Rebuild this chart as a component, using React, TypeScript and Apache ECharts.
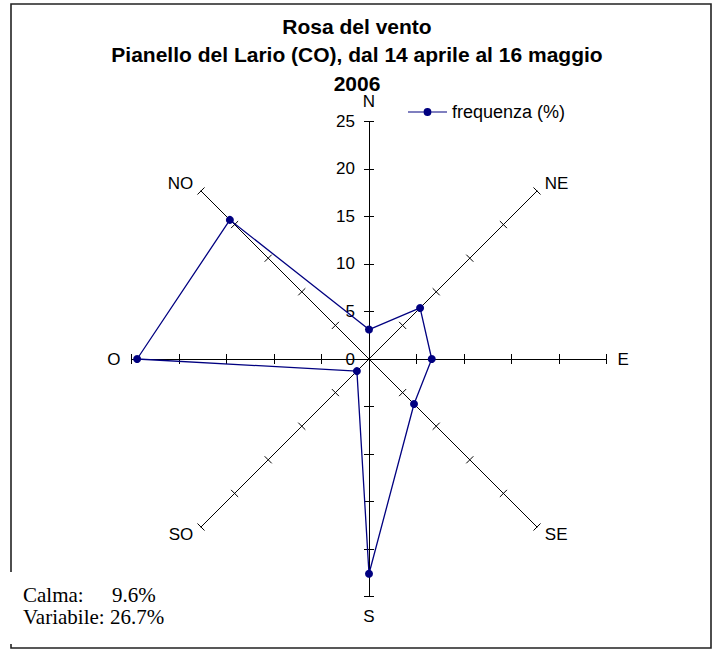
import React, { useEffect, useRef } from 'react';
import * as echarts from 'echarts';

// ---- data (clockwise from North, as in the reference) ----
const directions = ['N', 'NE', 'E', 'SE', 'S', 'SO', 'O', 'NO'];
const frequency = [3.1, 7.6, 6.6, 6.7, 22.6, 1.8, 24.4, 20.7];
const axisMin = 0;
const axisMax = 25;
const axisSplits = 5;
const seriesName = 'frequenza (%)';
const titleLines = ['Rosa del vento', 'Pianello del Lario (CO), dal 14 aprile al 16 maggio', '2006'];
const noteLabels = ['Calma:', 'Variabile:'];
const noteValues = ['9.6%', '26.7%'];

const SANS = '"Liberation Sans", Arial, sans-serif';
const SERIF = '"Liberation Serif", "Times New Roman", serif';
const NAVY = '#000080';

// ECharts radar places indicators counter-clockwise: reorder so they read clockwise.
const ccwOrder = directions.map((_, i) => (directions.length - i) % directions.length);

export default function App() {
  const ref = useRef<HTMLDivElement>(null);

  useEffect(() => {
    if (!ref.current) return;
    const chart = echarts.init(ref.current, undefined, { renderer: 'svg' });

    const indicators = ccwOrder.map((i) => ({
      name: directions[i],
      min: axisMin,
      max: axisMax,
      ...(directions[i] === 'N' ? { axisLabel: { show: true } } : {}),
    }));
    const plainIndicators = ccwOrder.map(() => ({ name: '', min: axisMin, max: axisMax }));
    const values = ccwOrder.map((i) => frequency[i]);

    const radarBase = {
      center: [369, 359],
      radius: 237.6,
      startAngle: 90,
      splitNumber: axisSplits,
      shape: 'polygon',
      splitLine: { show: false },
      splitArea: { show: false },
    };

    chart.setOption({
      animation: false,
      backgroundColor: '#fff',
      title: {
        text: titleLines.join('\n'),
        left: 357,
        top: 12,
        padding: 0,
        textAlign: 'center',
        textStyle: {
          fontFamily: SANS,
          fontSize: 21,
          fontWeight: 'bold',
          color: '#000',
          lineHeight: 28.5,
        },
      },
      legend: {
        data: [seriesName],
        left: 408,
        top: 103,
        padding: 0,
        itemWidth: 39,
        itemHeight: 8,
        icon: 'path://M0,3.4L40,3.4L40,4.6L0,4.6Z M16,4A4,4,0,1,1,24,4A4,4,0,1,1,16,4Z',
        textStyle: { fontFamily: SANS, fontSize: 18, color: '#000' },
      },
      radar: [
        {
          ...radarBase,
          indicator: indicators,
          nameGap: 11,
          axisName: { color: '#000', fontSize: 17, fontFamily: SANS },
          axisLine: { show: true, lineStyle: { color: '#000', width: 1 } },
          axisTick: { show: true, length: 5, lineStyle: { color: '#000', width: 1 } },
          axisLabel: { show: false, color: '#000', fontSize: 17, fontFamily: SANS, margin: 14 },
        },
        {
          ...radarBase,
          indicator: plainIndicators,
          axisName: { show: false },
          axisLine: { show: false },
          axisTick: { show: true, length: -5, lineStyle: { color: '#000', width: 1 } },
          axisLabel: { show: false },
        },
      ],
      series: [
        {
          type: 'radar',
          radarIndex: 0,
          name: seriesName,
          symbol: 'circle',
          symbolSize: 8,
          lineStyle: { color: NAVY, width: 1.3 },
          itemStyle: { color: NAVY },
          data: [{ name: seriesName, value: values }],
        },
      ],
      graphic: [
        {
          type: 'rect',
          shape: { x: 11, y: 4, width: 700, height: 644 },
          style: { fill: 'none', stroke: '#222', lineWidth: 1.6 },
          silent: true,
        },
        {
          type: 'rect',
          shape: { x: 4, y: 572, width: 180, height: 72 },
          style: { fill: '#fff', stroke: 'none' },
          silent: true,
        },
        {
          type: 'text',
          x: 23,
          y: 595,
          style: { text: noteLabels[0], fill: '#000', fontFamily: SERIF, fontSize: 21, textVerticalAlign: 'middle' },
        },
        {
          type: 'text',
          x: 112,
          y: 595,
          style: { text: noteValues[0], fill: '#000', fontFamily: SERIF, fontSize: 21, textVerticalAlign: 'middle' },
        },
        {
          type: 'text',
          x: 23,
          y: 617,
          style: {
            text: noteLabels[1] + ' ' + noteValues[1],
            fill: '#000',
            fontFamily: SERIF,
            fontSize: 21,
            textVerticalAlign: 'middle',
          },
        },
      ],
    });

    return () => chart.dispose();
  }, []);

  return (
    <div
      ref={ref}
      style={{ position: 'absolute', left: 0, top: 0, width: 720, height: 649 }}
    />
  );
}
